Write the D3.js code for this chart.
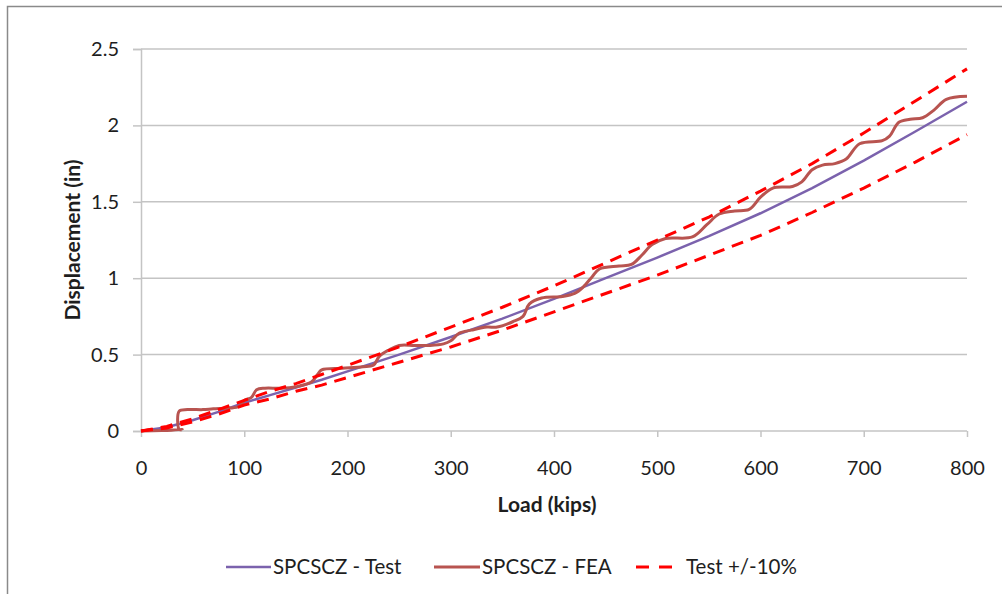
<!DOCTYPE html>
<html><head><meta charset="utf-8">
<script src="https://cdn.jsdelivr.net/npm/d3@7"></script>
<style>html,body{margin:0;padding:0;background:#fff;}svg{display:block;font-family:Lato,"Open Sans",sans-serif;}</style>
</head><body>
<script>
// ---- data ----
const testLoad = [0,25,50,75,100,125,150,175,200,250,300,350,400,450,500,550,600,650,700,750,800];
const testDisp = [0,0.025,0.07,0.125,0.185,0.235,0.285,0.335,0.39,0.50,0.615,0.735,0.865,1.0,1.135,1.275,1.425,1.59,1.77,1.96,2.155];
const upperDisp = [0,0.03,0.08,0.14,0.20,0.26,0.31,0.37,0.43,0.55,0.68,0.81,0.95,1.10,1.25,1.40,1.57,1.75,1.95,2.16,2.37];
const lowerDisp = [0,0.02,0.06,0.11,0.17,0.21,0.26,0.30,0.35,0.45,0.55,0.66,0.78,0.90,1.02,1.15,1.28,1.43,1.59,1.76,1.94];
const feaLoad = [0,20,40,37,37,45,60,70,85,95,100,107,112,120,135,150,165,171,175,195,215,225,231,240,250,265,280,293,300,308,320,335,345,360,370,376,388,408,420,428,437,444,463,475,485,495,508,534,548,560,575,589,600,612,631,640,650,660,672,683,696,718,725,734,745,757,768,780,800];
const feaDisp = [0,0.003,0.01,0.01,0.13,0.14,0.14,0.145,0.15,0.16,0.2,0.22,0.27,0.28,0.28,0.29,0.32,0.37,0.40,0.41,0.42,0.43,0.49,0.53,0.56,0.56,0.56,0.57,0.59,0.64,0.66,0.68,0.68,0.715,0.75,0.83,0.87,0.88,0.90,0.94,1.01,1.06,1.08,1.09,1.15,1.22,1.26,1.27,1.35,1.42,1.44,1.45,1.53,1.59,1.60,1.63,1.71,1.74,1.75,1.78,1.88,1.90,1.93,2.02,2.04,2.05,2.10,2.17,2.19];
const xTicks = [0,100,200,300,400,500,600,700,800];
const yTicks = [0,0.5,1,1.5,2,2.5];
const seriesNames = ["SPCSCZ - Test","SPCSCZ - FEA","Test +/-10%"];
const xTitle = "Load (kips)";
const yTitle = "Displacement (in)";

// ---- chart ----
const W = 1002, H = 594;
const svg = d3.select("body").append("svg").attr("width", W).attr("height", H);
svg.append("rect").attr("width", W).attr("height", H).attr("fill", "#fff");
svg.append("rect").attr("x", 7.5).attr("y", 6.5).attr("width", 1010).attr("height", 600)
  .attr("fill", "none").attr("stroke", "#8a8a8a").attr("stroke-width", 1.5);

const x = d3.scaleLinear().domain([0, 800]).range([141, 967]);
const y = d3.scaleLinear().domain([0, 2.5]).range([431, 49]);

svg.append("g").selectAll("line").data(yTicks.filter(d => d > 0)).join("line")
  .attr("x1", x(0)).attr("x2", x(800)).attr("y1", d => y(d)).attr("y2", d => y(d))
  .attr("stroke", "#c4c4c4").attr("stroke-width", 1.5);

const gy = svg.append("g").attr("transform", `translate(${x(0)},0)`)
  .call(d3.axisLeft(y).tickValues(yTicks).tickFormat(d3.format("")).tickSize(8).tickPadding(14));
const gx = svg.append("g").attr("transform", `translate(0,${y(0)})`)
  .call(d3.axisBottom(x).tickValues(xTicks).tickFormat(d3.format("d")).tickSize(6).tickPadding(24));
[gy, gx].forEach(g => {
  g.select(".domain").attr("stroke", "#c4c4c4").attr("stroke-width", 1.5);
  g.selectAll(".tick line").attr("stroke", "#c4c4c4").attr("stroke-width", 1.5);
  g.selectAll(".tick text").attr("font-family", "Lato").attr("font-size", 20).attr("fill", "#1e1e1e");
});
gx.select(".domain").attr("d", `M${x(0)},0H${x(800)}`);

svg.append("text").attr("x", 547).attr("y", 512).attr("text-anchor", "middle")
  .attr("font-weight", "bold").attr("font-size", 21).attr("fill", "#1e1e1e").text(xTitle);
svg.append("text").attr("transform", "translate(80,240) rotate(-90)").attr("text-anchor", "middle")
  .attr("font-weight", "bold").attr("font-size", 21).attr("fill", "#1e1e1e").text(yTitle);

const line = d3.line().x(d => x(d[0])).y(d => y(d[1]));
const smooth = d3.line().x(d => x(d[0])).y(d => y(d[1])).curve(d3.curveCatmullRom.alpha(0.5));
const testPts = testLoad.map((l, i) => [l, testDisp[i]]);
const upPts = testLoad.map((l, i) => [l, upperDisp[i]]);
const loPts = testLoad.map((l, i) => [l, lowerDisp[i]]);
const feaPts = feaLoad.map((l, i) => [l, feaDisp[i]]);

const purple = "#7b62ad", brown = "#b85450", red = "#ff0000";
svg.append("path").datum(testPts).attr("d", line).attr("fill", "none").attr("stroke", purple).attr("stroke-width", 2.5);
svg.append("path").datum(feaPts).attr("d", smooth).attr("fill", "none").attr("stroke", brown).attr("stroke-width", 3).attr("stroke-linejoin", "round");
[upPts, loPts].forEach(p => svg.append("path").datum(p).attr("d", line).attr("fill", "none")
  .attr("stroke", red).attr("stroke-width", 3).attr("stroke-dasharray", "12,8"));

const ly = 567;
const lg = svg.append("g").attr("font-size", 20.5).attr("fill", "#1e1e1e");
lg.append("line").attr("x1", 226).attr("x2", 271).attr("y1", ly).attr("y2", ly).attr("stroke", purple).attr("stroke-width", 2.5);
lg.append("text").attr("x", 273).attr("y", ly).attr("dy", "0.35em").text(seriesNames[0]);
lg.append("line").attr("x1", 434).attr("x2", 480).attr("y1", ly).attr("y2", ly).attr("stroke", brown).attr("stroke-width", 3);
lg.append("text").attr("x", 482).attr("y", ly).attr("dy", "0.35em").text(seriesNames[1]);
lg.append("line").attr("x1", 636).attr("x2", 673).attr("y1", ly).attr("y2", ly).attr("stroke", red).attr("stroke-width", 3).attr("stroke-dasharray", "13,10");
lg.append("text").attr("x", 686).attr("y", ly).attr("dy", "0.35em").text(seriesNames[2]);
</script>
</body></html>
